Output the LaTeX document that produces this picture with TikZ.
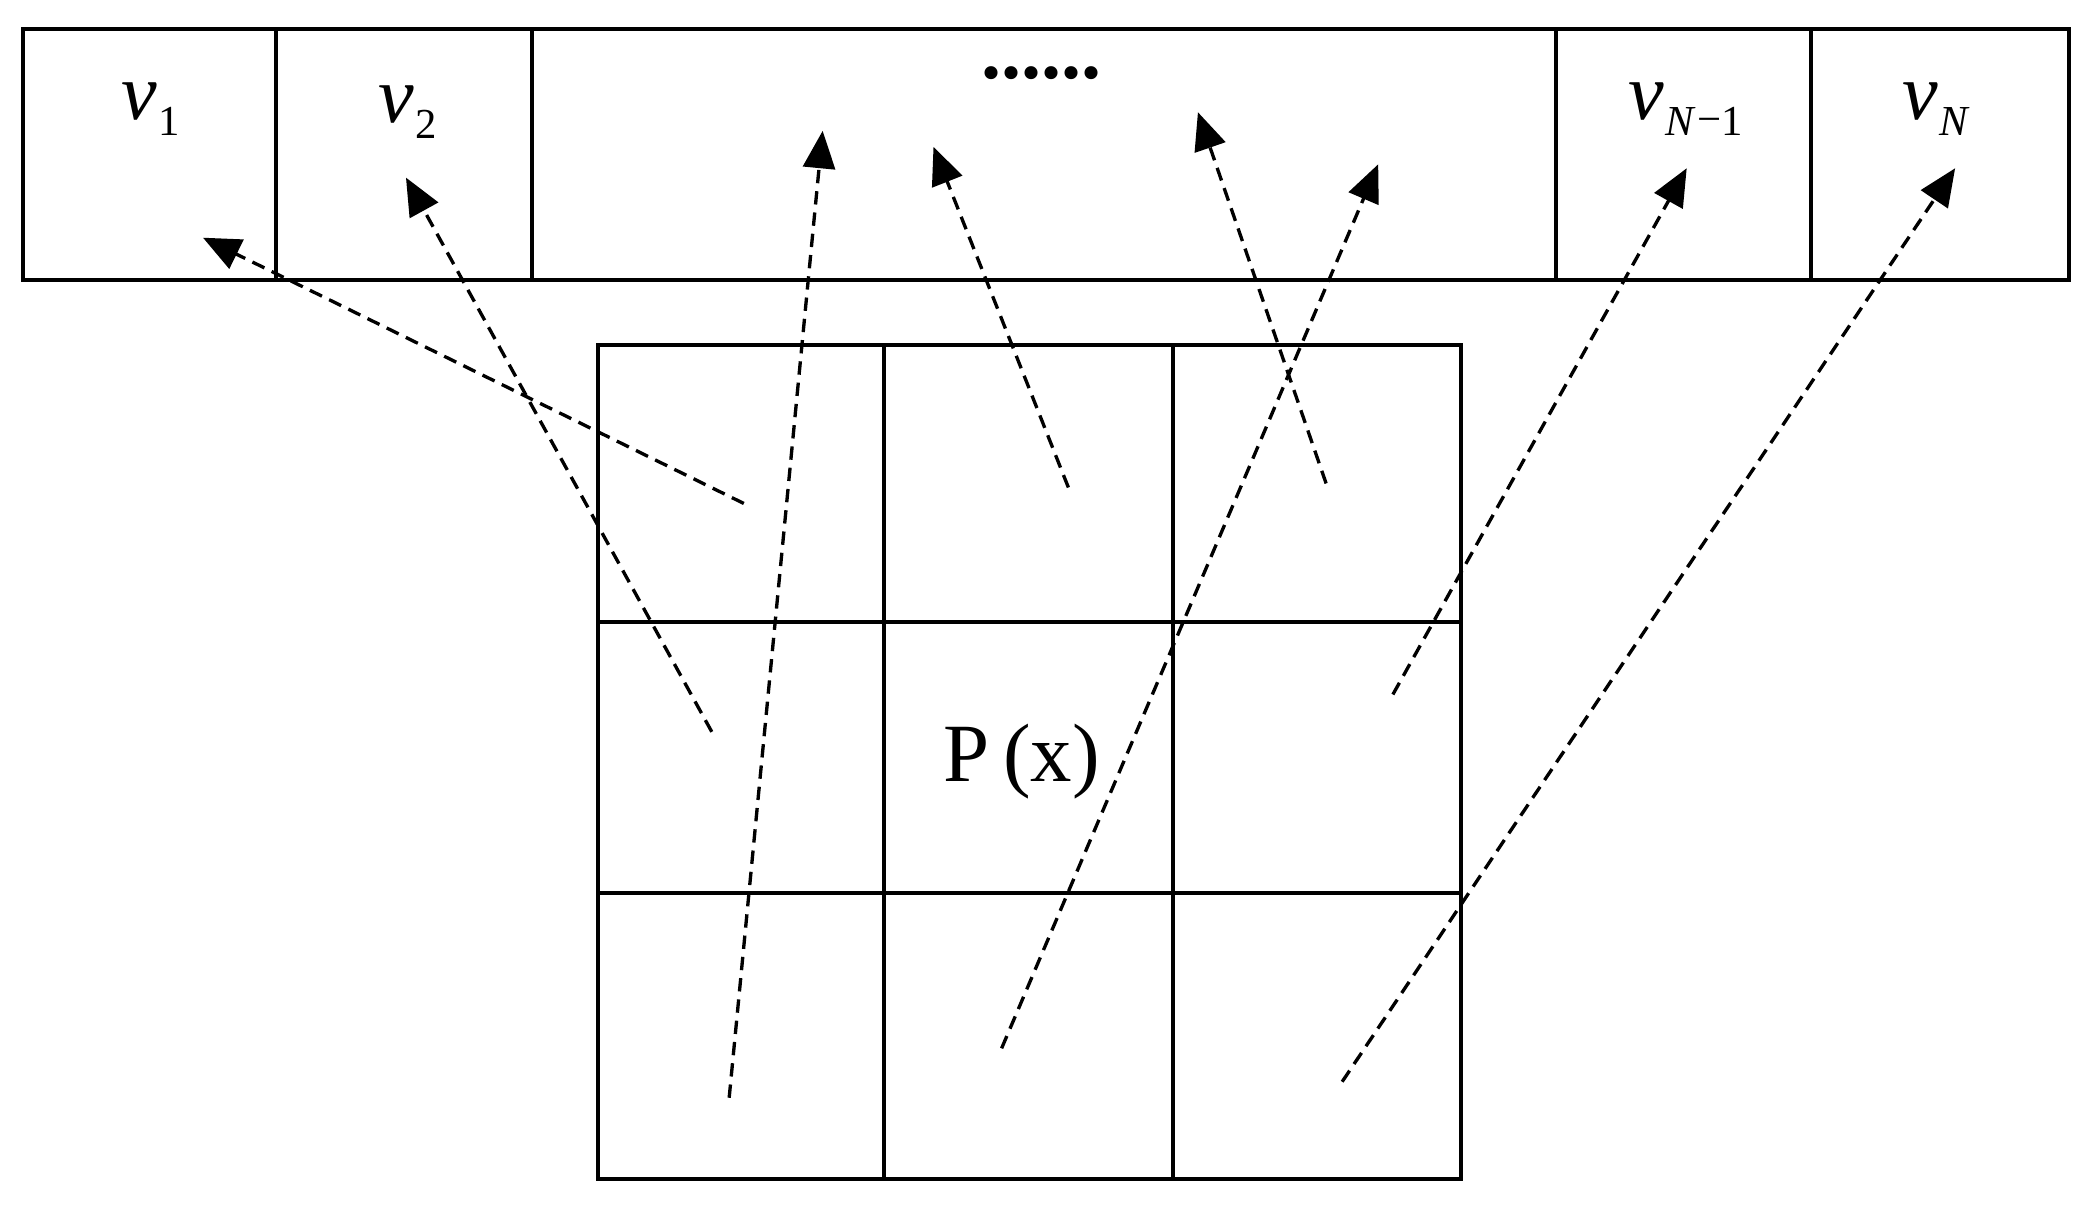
\documentclass[tikz,border=0pt]{standalone}
\usepackage{fontspec}
\setmainfont{Liberation Serif}
\usetikzlibrary{arrows.meta}
\newcommand{\vsub}[1]{\textit{v}\kern1pt\raisebox{-12pt}{\fontsize{32}{34}\selectfont #1}}
\begin{document}
\begin{tikzpicture}[x=1pt,y=-1pt,
  box/.style={draw,line width=3pt},
  arr/.style={line width=2.5pt,dash pattern=on 10pt off 6pt,-{Triangle[length=28pt,width=24pt]}},
  lab/.style={font=\fontsize{60}{62}\selectfont}]
\useasboundingbox (0,0) rectangle (1568,903);
\draw[box] (17,22) rectangle (1549,210);
\foreach \x in {207,398,1165,1356} \draw[box] (\x,22) -- (\x,210);
\draw[box] (448,258) rectangle (1094,883);
\draw[box] (662,258) -- (662,883);
\draw[box] (878,258) -- (878,883);
\draw[box] (448,466) -- (1094,466);
\draw[box] (448,669) -- (1094,669);
\node[lab] (v1) at (113,82) {\vsub{1}};
\node[lab] (v2) at (305,84) {\vsub{2}};
\node[font=\fontsize{60}{62}\selectfont\bfseries] (dots) at (780,55) {......};
\node[lab] (vn1) at (1262,82) {\vsub{\textit{N}\kern1pt\raisebox{2pt}{−}1}};
\node[lab] (vn) at (1450,82) {\vsub{\textit{N}}};
\node[font=\fontsize{62}{64}\selectfont] (p) at (765,570) {P\,(x)};
\coordinate (s1) at (557,377); \coordinate (e1) at (152,178);
\coordinate (s2) at (533,548); \coordinate (e2) at (304,133);
\coordinate (s3) at (546,822); \coordinate (e3) at (616,98);
\coordinate (s4) at (800,365); \coordinate (e4) at (699,110);
\coordinate (s5) at (993,362); \coordinate (e5) at (897,84);
\coordinate (s6) at (750,785); \coordinate (e6) at (1032,123);
\coordinate (s7) at (1043,520); \coordinate (e7) at (1263,126);
\coordinate (s8) at (1005,810); \coordinate (e8) at (1464,126);
\foreach \i in {1,...,8} \draw[arr] (s\i) -- (e\i);
\end{tikzpicture}
\end{document}
